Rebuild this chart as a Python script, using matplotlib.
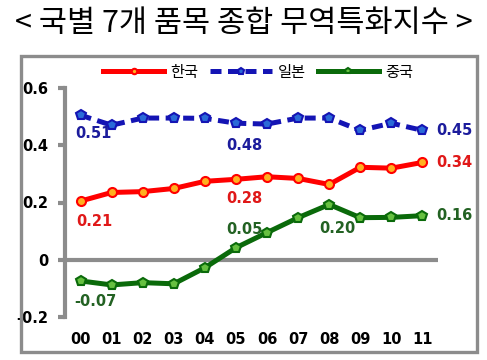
import matplotlib
matplotlib.use("Agg")
import matplotlib.pyplot as plt
from matplotlib.patches import Rectangle
import numpy as np

plt.rcParams['font.family'] = ['Noto Sans CJK KR', 'DejaVu Sans']

years = ["00", "01", "02", "03", "04", "05", "06", "07", "08", "09", "10", "11"]
korea = [0.205, 0.235, 0.238, 0.249, 0.274, 0.281, 0.290, 0.284, 0.263, 0.323, 0.320, 0.340]
japan = [0.505, 0.470, 0.495, 0.495, 0.494, 0.477, 0.474, 0.495, 0.495, 0.452, 0.477, 0.452]
china = [-0.074, -0.088, -0.080, -0.084, -0.028, 0.042, 0.095, 0.147, 0.193, 0.147, 0.148, 0.154]
series_names = ["한국", "일본", "중국"]

# value labels: (index, text, offset in points)
korea_labels = [(0, "0.21", (10, -15)), (5, "0.28", (6, -14)), (11, "0.34", (23, 0))]
japan_labels = [(0, "0.51", (9, -13)), (5, "0.48", (6, -16)), (11, "0.45", (23, 0))]
china_labels = [(0, "-0.07", (11, -15)), (5, "0.05", (6, 13)), (8, "0.20", (6, -17)),
                (11, "0.16", (23, 0))]

fig = plt.figure(figsize=(4.87, 3.6), dpi=100)
fig.text(0.5, 0.936, "< 국별 7개 품목 종합 무역특화지수 >", ha="center", va="center",
         fontsize=22, fontweight="medium", color="black")
fig.patches.append(Rectangle((21 / 487, 1 - 352 / 360), 456 / 487, 296 / 360,
                             transform=fig.transFigure, fill=False,
                             edgecolor="#8c8c8c", linewidth=2.4))

ax = fig.add_axes([65 / 487, 1 - 317 / 360, 373 / 487, 229 / 360])
x = np.arange(len(years))

ax.plot(x, korea, color="#ff0000", lw=3.6, marker="o", ms=6.5,
        mfc="#ffb020", mec="#ff0000", mew=1.5, label=series_names[0], zorder=3)
ax.plot(x, japan, color="#1414b4", lw=3.6, ls=(0, (2.2, 1.3)), marker="p", ms=7.5,
        mfc="#2a6ad8", mec="#1414b4", mew=1.5, label=series_names[1], zorder=3)
ax.plot(x, china, color="#0a6a0a", lw=3.6, marker="p", ms=7,
        mfc="#66c040", mec="#0a6a0a", mew=1.5, label=series_names[2], zorder=3)

ax.axhline(0, color="#8c8c8c", lw=3, zorder=1)
ax.set_xlim(-0.5, 11.5)
ax.set_ylim(-0.2, 0.6)
for s in ["top", "right", "bottom"]:
    ax.spines[s].set_visible(False)
ax.spines["left"].set_color("#8c8c8c")
ax.spines["left"].set_linewidth(3)
ax.set_yticks([-0.2, 0, 0.2, 0.4, 0.6])
ax.set_yticklabels(["-0.2", "0", "0.2", "0.4", "0.6"])
ax.set_xticks(x)
ax.set_xticklabels(years)
ax.tick_params(axis="y", length=5, width=3, color="#8c8c8c", pad=7)
ax.tick_params(axis="x", length=0, pad=11)
for t in ax.get_xticklabels() + ax.get_yticklabels():
    t.set_family("DejaVu Sans")
    t.set_fontweight("bold")
    t.set_fontsize(10.5)

for data, labels, color in [(korea, korea_labels, "#e01818"),
                            (japan, japan_labels, "#1c1c9c"),
                            (china, china_labels, "#236223")]:
    for idx, txt, off in labels:
        ax.annotate(txt, (idx, data[idx]), xytext=off, textcoords="offset points",
                    ha="center", va="center", color=color, fontsize=10.5,
                    fontweight="bold", family="DejaVu Sans", annotation_clip=False)

fig.legend(loc="center", bbox_to_anchor=(258 / 487, 1 - 72 / 360), ncol=3,
           frameon=False, handlelength=4.0, handletextpad=0.4, columnspacing=0.8,
           fontsize=11, markerscale=0.6)

fig.savefig("out.png", dpi=100)
